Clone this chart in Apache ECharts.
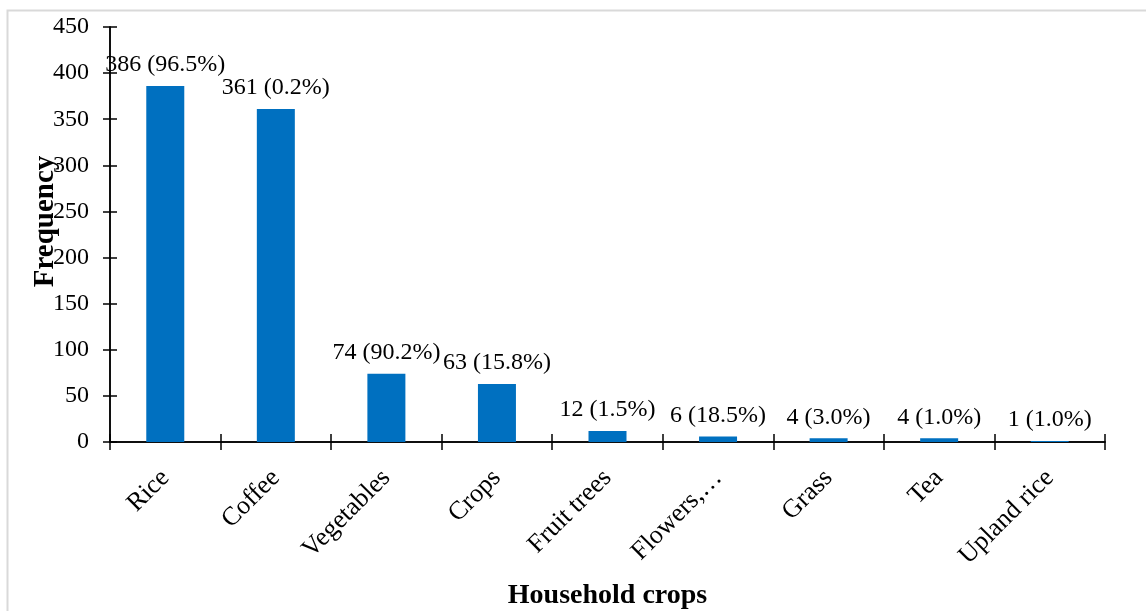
<!DOCTYPE html>
<html>
<head>
<meta charset="utf-8">
<script src="https://cdn.jsdelivr.net/npm/echarts@6/dist/echarts.min.js"></script>
<style>
  html, body { margin: 0; padding: 0; background: #fff; }
  #chart { width: 1146px; height: 611px; }
</style>
</head>
<body>
<div id="chart"></div>
<script>
// Household crops: frequency of each crop and its share
const categories = ['Rice', 'Coffee', 'Vegetables', 'Crops', 'Fruit trees', 'Flowers,\u2026', 'Grass', 'Tea', 'Upland rice'];
const frequency = [386, 361, 74, 63, 12, 6, 4, 4, 1];
const percent = [96.5, 0.2, 90.2, 15.8, 1.5, 18.5, 3.0, 1.0, 1.0];
const yTicks = { min: 0, max: 450, interval: 50 };

const FONT = '"Liberation Serif", "Times New Roman", serif';
const BLACK = '#000';

const chart = echarts.init(document.getElementById('chart'));

const baseY = {
  type: 'value',
  min: yTicks.min,
  max: yTicks.max,
  interval: yTicks.interval,
  position: 'left',
  splitLine: { show: false },
  axisLine: { show: true, lineStyle: { color: BLACK, width: 1.5 } }
};

const baseX = {
  type: 'category',
  data: categories,
  position: 'bottom',
  axisLine: { show: true, lineStyle: { color: BLACK, width: 1.5 } },
  splitLine: { show: false }
};

chart.setOption({
  animation: false,
  backgroundColor: '#fff',
  textStyle: { fontFamily: FONT, color: BLACK },
  graphic: [{
    type: 'rect',
    silent: true,
    z: -10,
    shape: { x: 7.5, y: 10.5, width: 1160, height: 640 },
    style: { fill: 'none', stroke: '#d9d9d9', lineWidth: 2 }
  }],
  grid: { left: 110, right: 41, top: 27, bottom: 169, containLabel: false, outerBoundsMode: 'none' },
  xAxis: [
    Object.assign({}, baseX, {
      name: 'Household crops',
      nameLocation: 'middle',
      nameGap: 140,
      nameMoveOverlap: false,
      nameTextStyle: { fontFamily: FONT, fontSize: 28, fontWeight: 'bold', color: BLACK },
      axisTick: { show: true, inside: false, length: 8, alignWithLabel: false, lineStyle: { color: BLACK, width: 1.5 } },
      axisLabel: {
        interval: 0,
        rotate: 45,
        margin: 32,
        fontFamily: FONT,
        fontSize: 26,
        color: BLACK
      }
    }),
    Object.assign({}, baseX, {
      axisTick: { show: true, inside: true, length: 8, lineStyle: { color: BLACK, width: 1.5 } },
      axisLabel: { show: false }
    })
  ],
  yAxis: [
    Object.assign({}, baseY, {
      name: 'Frequency',
      nameLocation: 'middle',
      nameGap: 50,
      nameMoveOverlap: false,
      nameRotate: 90,
      nameTextStyle: { fontFamily: FONT, fontSize: 29, fontWeight: 'bold', color: BLACK, padding: [0, 0, 0, 26] },
      axisTick: { show: true, inside: false, length: 7, lineStyle: { color: BLACK, width: 1.5 } },
      axisLabel: { margin: 21, fontFamily: FONT, fontSize: 24, color: BLACK }
    }),
    Object.assign({}, baseY, {
      axisTick: { show: true, inside: true, length: 7, lineStyle: { color: BLACK, width: 1.5 } },
      axisLabel: { show: false }
    })
  ],
  series: [{
    type: 'bar',
    xAxisIndex: 0,
    yAxisIndex: 0,
    data: frequency,
    barWidth: 38,
    itemStyle: { color: '#0070C0' },
    label: {
      show: true,
      position: 'top',
      distance: 9,
      fontFamily: FONT,
      fontSize: 24,
      color: BLACK,
      formatter: p => p.value + ' (' + percent[p.dataIndex].toFixed(1) + '%)'
    }
  }]
});
</script>
</body>
</html>
